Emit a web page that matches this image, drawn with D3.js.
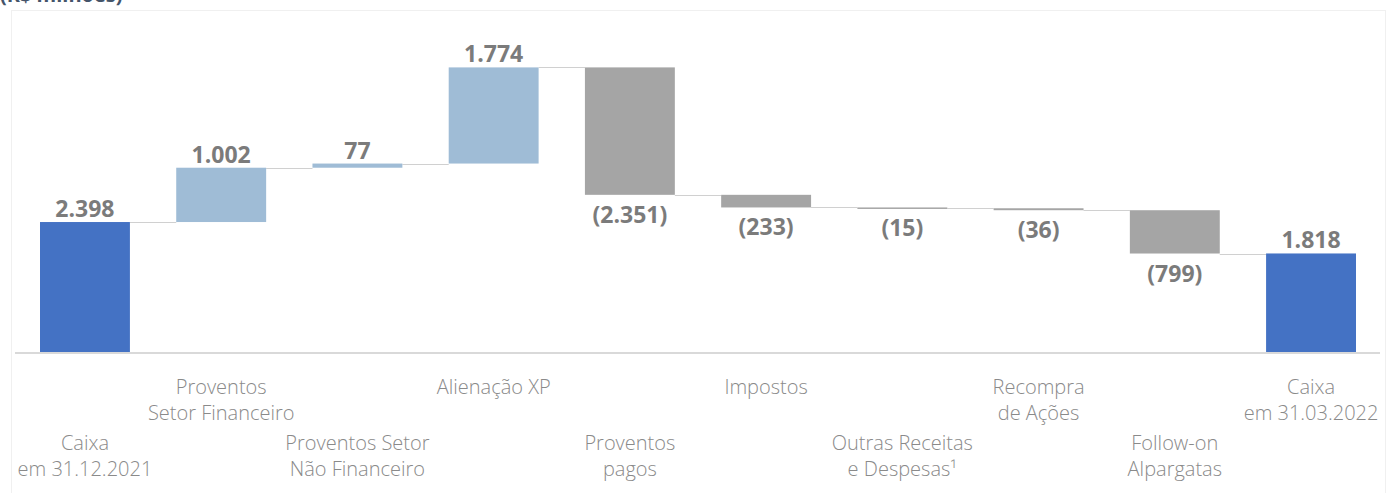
<!DOCTYPE html>
<html>
<head>
<meta charset="utf-8">
<script src="https://cdn.jsdelivr.net/npm/d3@7"></script>
<style>
  html, body { margin: 0; padding: 0; background: #fff; }
  svg { display: block; }
</style>
</head>
<body>
<div id="chart"></div>
<script>
// categories, two lines each
const categories = [
  ['Caixa', 'em 31.12.2021'],
  ['Proventos', 'Setor Financeiro'],
  ['Proventos Setor', 'Não Financeiro'],
  ['Alienação XP'],
  ['Proventos', 'pagos'],
  ['Impostos'],
  ['Outras Receitas', 'e Despesas¹'],
  ['Recompra', 'de Ações'],
  ['Follow-on', 'Alpargatas'],
  ['Caixa', 'em 31.03.2022'],
];
const values = [2398, 1002, 77, 1774, -2351, -233, -15, -36, -799, 1818];
const isTotal = [true, false, false, false, false, false, false, false, false, true];
const valueLabels = ['2.398', '1.002', '77', '1.774', '(2.351)', '(233)', '(15)', '(36)', '(799)', '1.818'];

const width = 1395, height = 493;
const baseY = 352;
const colors = { total: '#4472c4', up: '#9fbcd6', down: '#a5a5a5' };

const svg = d3.select('#chart').append('svg')
  .attr('width', width)
  .attr('height', height);

// faint frame
svg.append('rect')
  .attr('x', 11.5).attr('y', 10.5)
  .attr('width', 1374).attr('height', 490)
  .attr('fill', 'none')
  .attr('stroke', '#f0f0f0');

svg.append('text')
  .attr('x', 0).attr('y', 2)
  .attr('font-family', '"Open Sans", "Noto Sans", sans-serif')
  .attr('font-weight', 'bold')
  .attr('font-size', 20)
  .attr('fill', '#44546a')
  .text('(R$ milhões)');

// build waterfall steps
let running = 0;
const steps = values.map((v, i) => {
  let start, end;
  if (isTotal[i]) { start = 0; end = v; running = v; }
  else { start = running; end = running + v; running = end; }
  return { i, v, start, end, total: isTotal[i], label: valueLabels[i] };
});

const x = d3.scaleBand()
  .domain(d3.range(categories.length))
  .range([40, 1356])
  .paddingInner(0.34)
  .paddingOuter(0);

const y = d3.scaleLinear()
  .domain([0, 5251])
  .range([baseY, 67.4]);

// connectors
const conn = steps.slice(0, -1).map((s, i) => ({ from: i, level: s.end }));
svg.append('g').selectAll('line')
  .data(conn)
  .join('line')
  .attr('x1', d => x(d.from) + x.bandwidth())
  .attr('x2', d => x(d.from + 1))
  .attr('y1', d => Math.round(y(d.level)) + 0.5)
  .attr('y2', d => Math.round(y(d.level)) + 0.5)
  .attr('stroke', '#d0d0d0')
  .attr('stroke-width', 1.2);

// baseline
svg.append('line')
  .attr('x1', 15).attr('x2', 1380)
  .attr('y1', baseY + 1).attr('y2', baseY + 1)
  .attr('stroke', '#d9d9d9')
  .attr('stroke-width', 2);

// bars
svg.append('g').selectAll('rect')
  .data(steps)
  .join('rect')
  .attr('x', d => x(d.i))
  .attr('width', x.bandwidth())
  .attr('y', d => y(Math.max(d.start, d.end)))
  .attr('height', d => Math.max(1.5, Math.abs(y(d.start) - y(d.end))))
  .attr('fill', d => d.total ? colors.total : (d.v >= 0 ? colors.up : colors.down));

// value labels
svg.append('g').selectAll('text')
  .data(steps)
  .join('text')
  .attr('x', d => x(d.i) + x.bandwidth() / 2)
  .attr('y', d => d.v >= 0 ? y(Math.max(d.start, d.end)) - 5 : y(Math.min(d.start, d.end)) + 28)
  .attr('text-anchor', 'middle')
  .attr('font-family', '"Open Sans", "Noto Sans", sans-serif')
  .attr('font-weight', 'bold')
  .attr('font-size', 23)
  .attr('fill', '#7b7b7b')
  .text(d => d.label);

// category labels, staggered
const catG = svg.append('g')
  .attr('font-family', '"Open Sans", "Noto Sans", sans-serif')
  .attr('font-weight', 300)
  .attr('font-size', 20)
  .attr('fill', '#8a8a8a')
  .attr('text-anchor', 'middle');

categories.forEach((lines, i) => {
  const top = i % 2 === 1 ? 394 : 450;
  const t = catG.append('text')
    .attr('x', x(i) + x.bandwidth() / 2)
    .attr('y', top);
  lines.forEach((ln, k) => {
    t.append('tspan')
      .attr('x', x(i) + x.bandwidth() / 2)
      .attr('dy', k === 0 ? 0 : 26)
      .text(ln);
  });
});
</script>
</body>
</html>
